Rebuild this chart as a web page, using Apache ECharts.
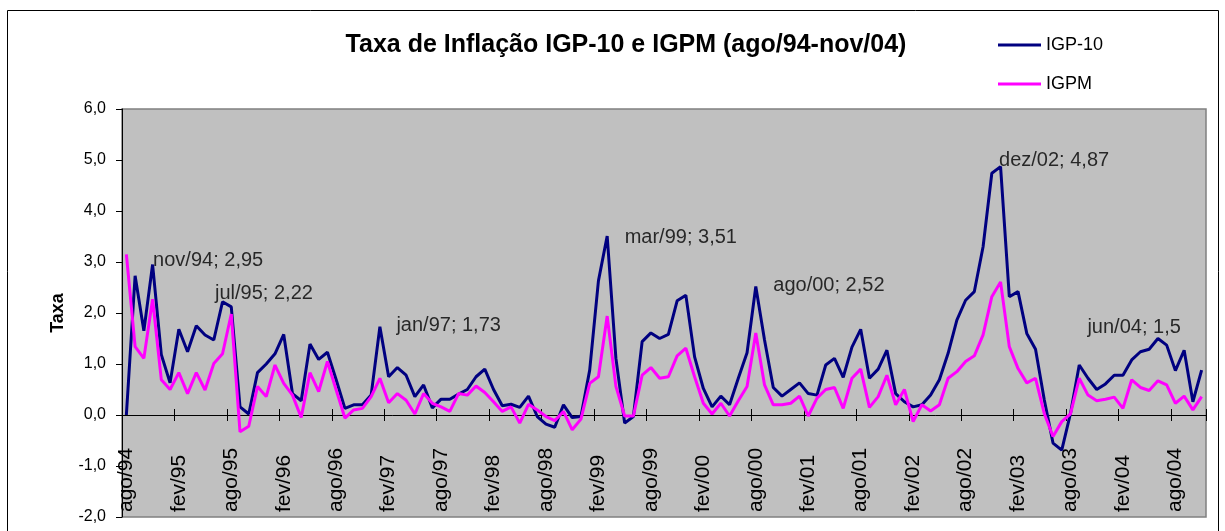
<!DOCTYPE html>
<html><head><meta charset="utf-8">
<script src="https://cdn.jsdelivr.net/npm/echarts@6/dist/echarts.min.js"></script>
<style>html,body{margin:0;padding:0;background:#fff}#c{width:1225px;height:531px}</style>
</head><body><div id="c"></div>
<script>
// ---- data ----
const categories = [
 'ago/94','set/94','out/94','nov/94','dez/94',
 'jan/95','fev/95','mar/95','abr/95','mai/95','jun/95','jul/95','ago/95','set/95','out/95','nov/95','dez/95',
 'jan/96','fev/96','mar/96','abr/96','mai/96','jun/96','jul/96','ago/96','set/96','out/96','nov/96','dez/96',
 'jan/97','fev/97','mar/97','abr/97','mai/97','jun/97','jul/97','ago/97','set/97','out/97','nov/97','dez/97',
 'jan/98','fev/98','mar/98','abr/98','mai/98','jun/98','jul/98','ago/98','set/98','out/98','nov/98','dez/98',
 'jan/99','fev/99','mar/99','abr/99','mai/99','jun/99','jul/99','ago/99','set/99','out/99','nov/99','dez/99',
 'jan/00','fev/00','mar/00','abr/00','mai/00','jun/00','jul/00','ago/00','set/00','out/00','nov/00','dez/00',
 'jan/01','fev/01','mar/01','abr/01','mai/01','jun/01','jul/01','ago/01','set/01','out/01','nov/01','dez/01',
 'jan/02','fev/02','mar/02','abr/02','mai/02','jun/02','jul/02','ago/02','set/02','out/02','nov/02','dez/02',
 'jan/03','fev/03','mar/03','abr/03','mai/03','jun/03','jul/03','ago/03','set/03','out/03','nov/03','dez/03',
 'jan/04','fev/04','mar/04','abr/04','mai/04','jun/04','jul/04','ago/04','set/04','out/04','nov/04'
];
const igp10 = [
 0.00, 2.73, 1.65, 2.95, 1.18,
 0.63, 1.68, 1.24, 1.75, 1.57, 1.47, 2.22, 2.12, 0.16, 0.02, 0.83, 1.00,
 1.20, 1.58, 0.42, 0.28, 1.39, 1.09, 1.23, 0.69, 0.13, 0.20, 0.20, 0.39,
 1.73, 0.75, 0.93, 0.78, 0.36, 0.59, 0.14, 0.31, 0.31, 0.41, 0.50, 0.75,
 0.90, 0.50, 0.18, 0.21, 0.15, 0.37, -0.03, -0.18, -0.24, 0.20, -0.05, -0.03,
 0.88, 2.63, 3.51, 1.11, -0.16, -0.03, 1.44, 1.61, 1.50, 1.58, 2.24, 2.35,
 1.14, 0.52, 0.16, 0.37, 0.20, 0.72, 1.22, 2.52, 1.47, 0.54, 0.37, 0.50,
 0.63, 0.42, 0.39, 0.98, 1.11, 0.74, 1.33, 1.68, 0.72, 0.90, 1.27, 0.42,
 0.26, 0.16, 0.20, 0.39, 0.69, 1.21, 1.86, 2.25, 2.42, 3.30, 4.74, 4.87,
 2.32, 2.42, 1.60, 1.29, 0.30, -0.55, -0.69, 0.03, 0.98, 0.72, 0.50, 0.61,
 0.78, 0.78, 1.08, 1.24, 1.29, 1.50, 1.37, 0.87, 1.27, 0.26, 0.88
];
const igpm = [
 3.15, 1.34, 1.11, 2.27, 0.69,
 0.50, 0.83, 0.42, 0.83, 0.49, 1.01, 1.20, 1.98, -0.33, -0.22, 0.56, 0.36,
 0.98, 0.62, 0.39, -0.05, 0.83, 0.46, 1.05, 0.49, -0.06, 0.10, 0.13, 0.36,
 0.72, 0.24, 0.42, 0.29, 0.02, 0.42, 0.23, 0.16, 0.07, 0.42, 0.39, 0.57,
 0.44, 0.26, 0.07, 0.16, -0.16, 0.21, 0.10, -0.03, -0.11, 0.07, -0.29, -0.08,
 0.62, 0.75, 1.94, 0.56, -0.02, -0.02, 0.78, 0.93, 0.72, 0.75, 1.16, 1.31,
 0.75, 0.23, 0.02, 0.23, -0.02, 0.28, 0.56, 1.61, 0.59, 0.20, 0.20, 0.23,
 0.37, -0.02, 0.33, 0.50, 0.54, 0.13, 0.72, 0.90, 0.15, 0.36, 0.78, 0.20,
 0.50, -0.13, 0.20, 0.08, 0.20, 0.72, 0.85, 1.05, 1.16, 1.57, 2.32, 2.61,
 1.34, 0.91, 0.63, 0.72, 0.03, -0.42, -0.13, 0.02, 0.72, 0.39, 0.28, 0.31,
 0.35, 0.13, 0.69, 0.54, 0.48, 0.67, 0.59, 0.23, 0.37, 0.10, 0.36
];
const annotatedMonths = ['nov/94','jul/95','jan/97','mar/99','ago/00','dez/02','jun/04'];
const yTickValues = [-2, -1, 0, 1, 2, 3, 4, 5, 6];

// ---- presentation ----
const FONT = 'Liberation Sans, Arial, sans-serif';
const labelOffsets = {
  'nov/94': [0, -4], 'jul/95': [-8, -8], 'jan/97': [16, -1], 'mar/99': [17, 1],
  'ago/00': [17, -1], 'dez/02': [-2, -6], 'jun/04': [-71, -11]
};
const fmt = v => String(v).replace('.', ',');
const annSeries = annotatedMonths.map(m => {
  const i = categories.indexOf(m);
  return {
    name: 'rotulo ' + m, type: 'scatter', xAxisIndex: 0,
    data: [[i, igp10[i]]], symbolSize: 1,
    itemStyle: { color: 'rgba(0,0,0,0)' }, silent: true, z: 5,
    labelLayout: { dx: labelOffsets[m][0], dy: labelOffsets[m][1], hideOverlap: false, moveOverlap: null },
    label: { show: true, position: 'right', distance: 0,
      formatter: m + '; ' + fmt(igp10[i]),
      fontFamily: FONT, fontSize: 20, color: '#000' }
  };
});

const chart = echarts.init(document.getElementById('c'), null, { renderer: 'canvas' });
chart.setOption({
  animation: false,
  backgroundColor: '#ffffff',
  textStyle: { fontFamily: FONT },
  title: {
    text: 'Taxa de Inflação IGP-10 e IGPM (ago/94-nov/04)',
    left: 621, top: 28, textAlign: 'center',
    textStyle: { fontFamily: FONT, fontSize: 25, fontWeight: 'bold', color: '#000' }
  },
  legend: {
    orient: 'vertical', left: 993, top: 30, itemGap: 19,
    itemWidth: 43, itemHeight: 3, icon: 'rect',
    data: ['IGP-10', 'IGPM'],
    textStyle: { fontFamily: FONT, fontSize: 18, color: '#000', lineHeight: 20 }
  },
  graphic: [{
    type: 'rect', shape: { x: 7.5, y: 10.5, width: 1211, height: 540 },
    style: { fill: 'none', stroke: '#000', lineWidth: 1 }, silent: true, z: 100
  }],
  grid: {
    left: 122, right: 19, top: 109, bottom: 14, show: true,
    backgroundColor: '#C0C0C0', borderColor: '#808080', borderWidth: 1.5
  },
  xAxis: [
    { type: 'category', data: categories, boundaryGap: true, position: 'bottom',
      axisLine: { onZero: true, onZeroAxisIndex: 0, lineStyle: { color: '#000', width: 1 } },
      axisTick: { show: true, interval: 5, length: 6, lineStyle: { color: '#000' } },
      axisLabel: { show: false }, splitLine: { show: false } },
    { type: 'category', data: categories, boundaryGap: true, position: 'top',
      axisLine: { show: false, onZero: true, onZeroAxisIndex: 0 },
      axisTick: { show: true, interval: 5, length: 6, lineStyle: { color: '#000' } },
      axisLabel: { show: false }, splitLine: { show: false } },
    { type: 'category', data: categories, boundaryGap: true, position: 'bottom',
      axisLine: { show: false, onZero: false }, axisTick: { show: false },
      axisLabel: { show: true, inside: true, rotate: 90, interval: 5, margin: 5,
        fontFamily: FONT, fontSize: 21, color: '#000' },
      splitLine: { show: false } }
  ],
  yAxis: {
    type: 'value', min: yTickValues[0], max: yTickValues[yTickValues.length - 1], interval: 1,
    name: 'Taxa', nameLocation: 'middle', nameGap: 52, nameRotate: 90,
    nameTextStyle: { fontFamily: FONT, fontSize: 18, fontWeight: 'bold', color: '#000' },
    axisLine: { show: true, lineStyle: { color: '#000', width: 1 } },
    axisTick: { show: true, length: 6, lineStyle: { color: '#000' } },
    axisLabel: { margin: 16, fontFamily: FONT, fontSize: 16, color: '#000',
      formatter: v => v.toFixed(1).replace('.', ',') },
    splitLine: { show: false }
  },
  series: [
    { name: 'IGP-10', type: 'line', data: igp10, xAxisIndex: 0, showSymbol: false, symbol: 'none',
      lineStyle: { color: '#000080', width: 3 }, itemStyle: { color: '#000080' }, z: 3 },
    { name: 'IGPM', type: 'line', data: igpm, xAxisIndex: 0, showSymbol: false, symbol: 'none',
      lineStyle: { color: '#FF00FF', width: 3 }, itemStyle: { color: '#FF00FF' }, z: 4 }
  ].concat(annSeries)
});
</script></body></html>
